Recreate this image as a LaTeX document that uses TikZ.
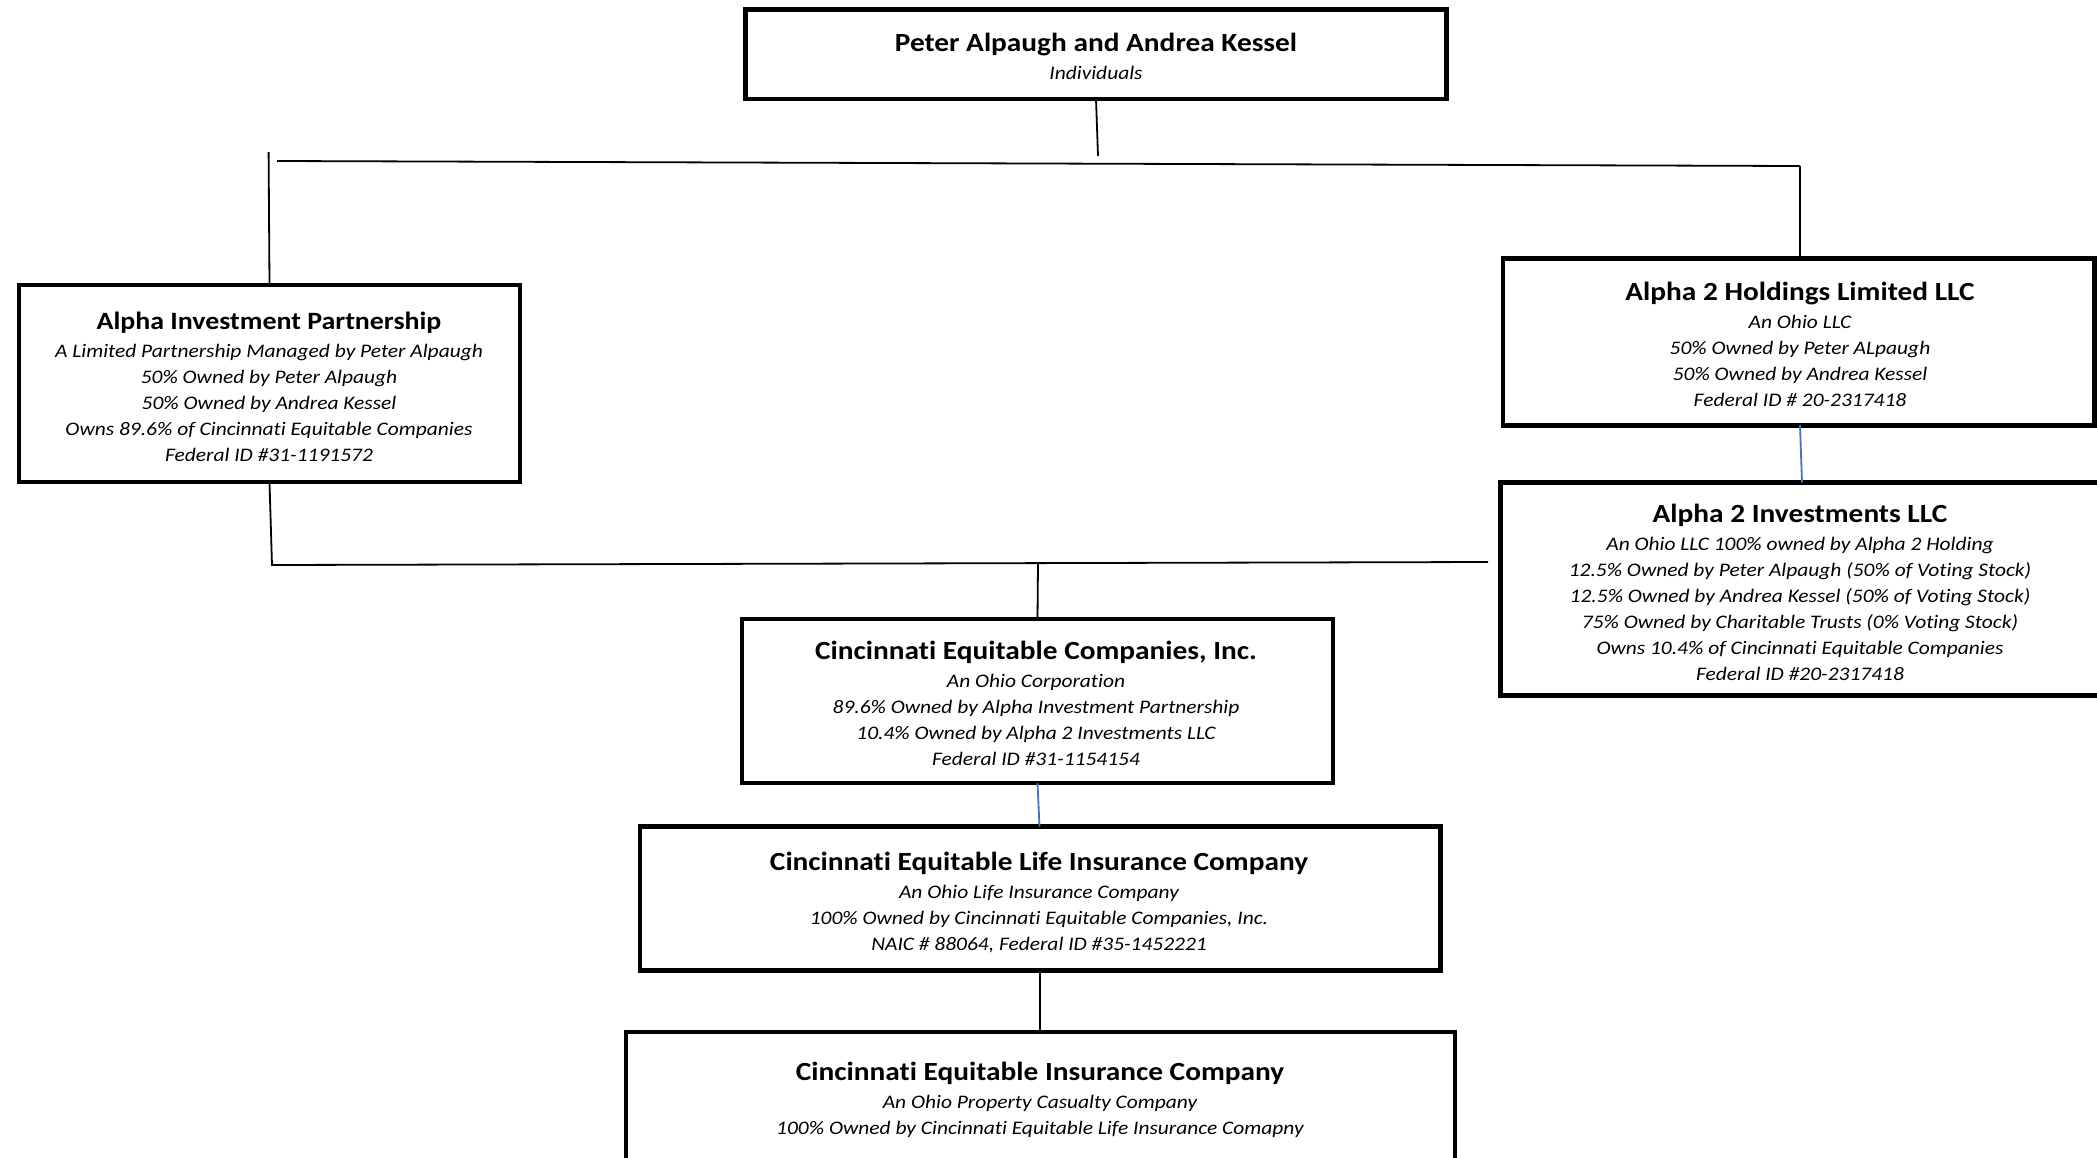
\documentclass[tikz,border=0pt]{standalone}
\usepackage{fontspec}
\setmainfont{Carlito}[FakeStretch=1.12, Ligatures=NoCommon]
\definecolor{linkblue}{RGB}{68,114,196}
\tikzset{
  box/.style={draw=black, line width=4.5pt, rectangle, inner sep=0pt, outer sep=0pt},
  conn/.style={draw=black, line width=1.8pt},
  bconn/.style={draw=linkblue, line width=1.8pt},
  txt/.style={align=center, inner sep=0pt, font=\fontsize{19.15}{26}\selectfont\itshape},
}
\newcommand\boxtitle[1]{{\fontsize{26.2}{30}\selectfont\bfseries\upshape #1}}
\newcommand\smalltitle[1]{{\fontsize{24.9}{30}\selectfont\bfseries\upshape #1}}
\begin{document}
\begin{tikzpicture}[x=1pt,y=-1pt]
\useasboundingbox (0,0) rectangle (2097,1157);
\clip (0,0) rectangle (2097,1157);
\fill[white] (0,0) rectangle (2097,1157);

% boxes
\node[box, minimum width=701pt, minimum height=89.5pt] (peter) at (1096,54.25) {};
\node[box, minimum width=501pt, minimum height=197pt] (aip) at (269.5,383.5) {};
\node[box, minimum width=591.5pt, minimum height=167pt] (hold) at (1798.75,341.75) {};
\node[box, minimum width=601.5pt, minimum height=213pt] (inv) at (1801.25,589) {};
\node[box, minimum width=591pt, minimum height=164pt] (cec) at (1037.5,701) {};
\node[box, minimum width=800.5pt, minimum height=144pt] (celic) at (1040.25,898.5) {};
\node[box, minimum width=829pt, minimum height=146pt] (ceic) at (1040.5,1105) {};

% texts
\node[txt] (peter-t) at (1096,56) {\boxtitle{Peter Alpaugh and Andrea Kessel}\\[2pt]Individuals};
\node[txt] (aip-t) at (269,386.5) {\smalltitle{Alpha Investment Partnership}\\[2pt]
A Limited Partnership Managed by Peter Alpaugh\\
50\% Owned by Peter Alpaugh\\
50\% Owned by Andrea Kessel\\
Owns 89.6\% of Cincinnati Equitable Companies\\
Federal ID \#31-1191572};
\node[txt] (hold-t) at (1800,344.5) {\boxtitle{Alpha 2 Holdings Limited LLC}\\[2pt]
An Ohio LLC\\
50\% Owned by Peter ALpaugh\\
50\% Owned by Andrea Kessel\\
Federal ID \# 20-2317418};
\node[txt] (inv-t) at (1800,592) {\boxtitle{Alpha 2 Investments LLC}\\[2pt]
An Ohio LLC 100\% owned by Alpha 2 Holding\\
12.5\% Owned by Peter Alpaugh (50\% of Voting Stock)\\
12.5\% Owned by Andrea Kessel (50\% of Voting Stock)\\
75\% Owned by Charitable Trusts (0\% Voting Stock)\\
Owns 10.4\% of Cincinnati Equitable Companies\\
Federal ID \#20-2317418};
\node[txt] (cec-t) at (1036,703) {\boxtitle{Cincinnati Equitable Companies, Inc.}\\[2pt]
An Ohio Corporation\\
89.6\% Owned by Alpha Investment Partnership\\
10.4\% Owned by Alpha 2 Investments LLC\\
Federal ID \#31-1154154};
\node[txt] (celic-t) at (1039,902.5) {\boxtitle{Cincinnati Equitable Life Insurance Company}\\[2pt]
An Ohio Life Insurance Company\\
100\% Owned by Cincinnati Equitable Companies, Inc.\\
NAIC \# 88064, Federal ID \#35-1452221};
\node[txt] (ceic-t) at (1040,1100) {\boxtitle{Cincinnati Equitable Insurance Company}\\[2pt]
An Ohio Property Casualty Company\\
100\% Owned by Cincinnati Equitable Life Insurance Comapny};

% connector points
\coordinate (pdrop) at (1098,156);
\coordinate (busTL) at (277,161);
\coordinate (busTR) at (1800,166);
\coordinate (ltop) at (268.6,152);
\coordinate (busBL) at (272,565);
\coordinate (busBR) at (1488,562);
\coordinate (cdrop) at (1038,563);

% connectors
\draw[conn] (peter.south) -- (pdrop);
\draw[conn] (busTL) -- (busTR);
\draw[conn] (ltop) -- (aip.north);
\draw[conn] (busTR) -- (busTR |- hold.north);
\draw[bconn] (busTR |- hold.south) -- ([xshift=2pt]busTR |- inv.north);
\draw[conn] (aip.south) -- (busBL) -- (busBR);
\draw[conn] (cdrop) -- (cec.north);
\draw[bconn] (cec.south) -- ([xshift=2pt]cec.south |- celic.north);
\draw[conn] (celic.south) -- (celic.south |- ceic.north);
\end{tikzpicture}
\end{document}
